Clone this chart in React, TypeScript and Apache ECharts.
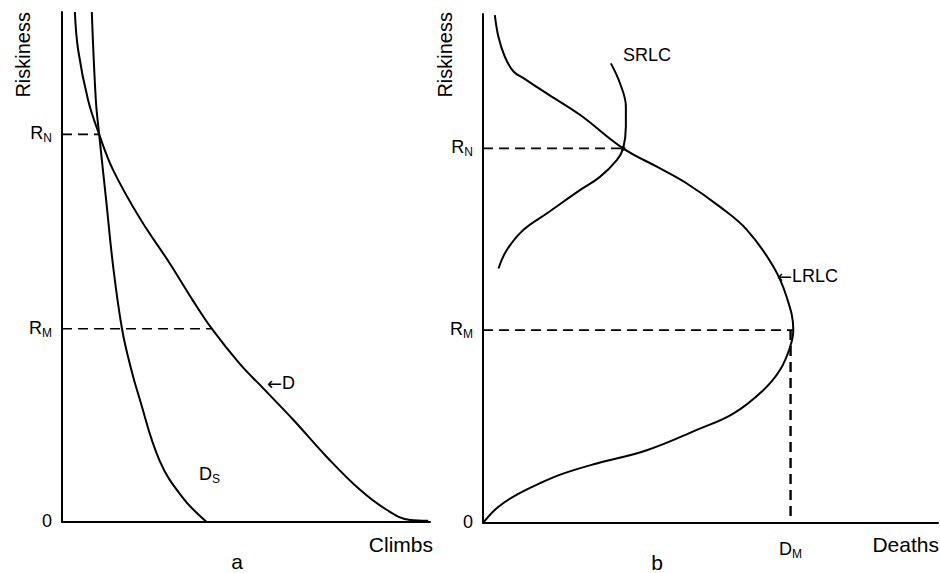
import React, { useEffect, useRef } from 'react';
import * as echarts from 'echarts';

// Panel a: Riskiness vs Climbs
const dClimbs = [3.5, 4.4, 7.1, 10.1, 13.9, 21.2, 29.3, 35.5, 40.7, 48.2, 54.7, 62.9, 71.9, 81.0, 88.2, 94.6, 99.5];
const dRisk = [100, 92.5, 82.7, 76.0, 69.0, 59.5, 50.7, 43.5, 37.9, 31.1, 26.2, 20.0, 12.8, 6.3, 2.4, 0.4, 0.25];
const dsClimbs = [8.1, 9.2, 10.1, 12.0, 13.9, 16.3, 18.6, 20.9, 26.6, 32.9, 39.3];
const dsRisk = [100, 82.7, 76.0, 63.1, 50.1, 37.9, 30.5, 24.6, 11.9, 4.7, 0];
const RN_A = 76.0;
const RM_A = 37.9;
const RN_A_CLIMBS = 10.1;
const RM_A_CLIMBS = 40.7;

// Panel b: Riskiness vs Deaths
const lrlcDeaths = [2.6, 3.4, 4.8, 6.7, 8.9, 14.0, 21.3, 30.8, 38.2, 44.8, 52.1, 58.0, 63.8, 66.7, 68.2, 67.5, 65.3, 61.6, 55.0, 47.0, 36.0, 25.0, 17.6, 12.5, 6.7, 3.0, 0];
const lrlcRisk = [99.8, 95.5, 91.6, 88.7, 87.4, 84.4, 80.2, 73.6, 70.0, 66.7, 62.1, 57.6, 50.4, 44.5, 37.9, 34.6, 30.1, 26.1, 21.5, 18.3, 14.3, 11.7, 9.7, 7.8, 5.2, 2.9, 0];
const srlcDeaths = [28.1, 30.1, 31.4, 31.4, 30.8, 29.4, 25.7, 21.3, 14.0, 8.9, 5.2, 3.4];
const srlcRisk = [90.3, 86.4, 81.8, 77.9, 73.6, 71.3, 68.0, 65.4, 60.8, 57.6, 53.6, 50.0];
const RN_B = 73.6;
const RM_B = 37.9;
const RN_B_DEATHS = 30.8;
const D_M = 67.6;
const RM_B_DEATHS = 68.2;

const yTickLabels: Record<string, string> = { RN: 'R|N', RM: 'R|M', zero: '0' };

const FONT = '"Liberation Sans", Arial, Helvetica, sans-serif';

const pair = (xs: number[], ys: number[]) => xs.map((x, i) => [x, ys[i]]);

const rich = {
  b: { fontSize: 18, lineHeight: 20, verticalAlign: 'top', color: '#000', fontFamily: FONT },
  s: { fontSize: 12, lineHeight: 12, verticalAlign: 'bottom', color: '#000', fontFamily: FONT },
  a: { fontSize: 18, lineHeight: 20, verticalAlign: 'top', color: '#000', fontFamily: '"DejaVu Sans", sans-serif' },
};

const fmtLabel = (txt: string) => {
  const [a, b] = txt.split('|');
  return b ? `{b|${a}}{s|${b}}` : `{b|${a}}`;
};

const yLabelFor = (rn: number, rm: number) => (v: number) => {
  if (Math.abs(v - rn) < 0.01) return fmtLabel(yTickLabels.RN);
  if (Math.abs(v - rm) < 0.01) return fmtLabel(yTickLabels.RM);
  if (v === 0) return fmtLabel(yTickLabels.zero);
  return '';
};

export default function App() {
  const ref = useRef<HTMLDivElement>(null);
  useEffect(() => {
    document.body.style.margin = '0';
    if (!ref.current) return;
    const chart = echarts.init(ref.current, null, { renderer: 'svg' });
    const axisLine = { show: true, lineStyle: { color: '#000', width: 2 } };
    const baseX = {
      type: 'value', min: 0, max: 100,
      axisLine, axisTick: { show: false }, splitLine: { show: false },
    };
    const curve = { type: 'line', showSymbol: false, smooth: 0.4, lineStyle: { color: '#000', width: 2 } };
    const dash = (w: number) => ({ type: 'line', showSymbol: false, lineStyle: { color: '#000', width: w, type: [10, 6] } });
    const text = (x: number, y: number, t: string, extra: any = {}) => ({
      type: 'text', x, y,
      style: { text: t, fill: '#000', font: `18px ${FONT}`, align: 'left', verticalAlign: 'middle', ...extra },
    });
    const option: any = {
      animation: false,
      backgroundColor: '#fff',
      grid: [
        { left: 62, top: 12, width: 368, height: 510, containLabel: false, outerBoundsMode: 'none' },
        { left: 483, top: 14, width: 455, height: 509, containLabel: false, outerBoundsMode: 'none' },
      ],
      xAxis: [
        { ...baseX, gridIndex: 0, axisLabel: { show: false } },
        {
          ...baseX, gridIndex: 1,
          axisLabel: {
            show: true, customValues: [D_M], margin: 17,
            formatter: (v: number) => (Math.abs(v - D_M) < 0.01 ? fmtLabel('D|M') : ''),
            rich,
          },
        },
      ],
      yAxis: [
        {
          type: 'value', min: 0, max: 100, gridIndex: 0,
          axisLine, axisTick: { show: false }, splitLine: { show: false },
          axisLabel: { show: true, customValues: [0, RM_A, RN_A], margin: 10, formatter: yLabelFor(RN_A, RM_A), rich },
        },
        {
          type: 'value', min: 0, max: 100, gridIndex: 1,
          axisLine, axisTick: { show: false }, splitLine: { show: false },
          axisLabel: { show: true, customValues: [0, RM_B, RN_B], margin: 10, formatter: yLabelFor(RN_B, RM_B), rich },
        },
      ],
      series: [
        { ...curve, name: 'D', xAxisIndex: 0, yAxisIndex: 0, data: pair(dClimbs, dRisk) },
        { ...curve, name: 'Ds', xAxisIndex: 0, yAxisIndex: 0, data: pair(dsClimbs, dsRisk) },
        { ...dash(1.6), name: 'RN a', xAxisIndex: 0, yAxisIndex: 0, data: [[0, RN_A], [RN_A_CLIMBS, RN_A]] },
        { ...dash(1.4), name: 'RM a', xAxisIndex: 0, yAxisIndex: 0, data: [[0, RM_A], [RM_A_CLIMBS, RM_A]] },
        { ...curve, name: 'LRLC', xAxisIndex: 1, yAxisIndex: 1, data: pair(lrlcDeaths, lrlcRisk) },
        { ...curve, name: 'SRLC', xAxisIndex: 1, yAxisIndex: 1, data: pair(srlcDeaths, srlcRisk) },
        { ...dash(1.6), name: 'RN b', xAxisIndex: 1, yAxisIndex: 1, data: [[0, RN_B], [RN_B_DEATHS, RN_B]] },
        { ...dash(1.6), name: 'RM b', xAxisIndex: 1, yAxisIndex: 1, data: [[0, RM_B], [RM_B_DEATHS, RM_B]] },
        { ...dash(2.4), name: 'DM', xAxisIndex: 1, yAxisIndex: 1, data: [[D_M, RM_B], [D_M, 0]] },
        {
          type: 'scatter', name: 'eq', xAxisIndex: 1, yAxisIndex: 1, symbolSize: 5,
          itemStyle: { color: '#000' }, data: [[RN_B_DEATHS, RN_B]],
        },
      ],
      graphic: [
        text(23, 12, 'Riskiness', { font: `20px ${FONT}`, align: 'right' }),
        text(445, 12, 'Riskiness', { font: `20px ${FONT}`, align: 'right' }),
        text(433, 544, 'Climbs', { font: `21px ${FONT}`, align: 'right' }),
        text(939, 544, 'Deaths', { font: `21px ${FONT}`, align: 'right' }),
        text(237, 561, 'a', { font: `21px ${FONT}`, align: 'center' }),
        text(657, 562, 'b', { font: `21px ${FONT}`, align: 'center' }),
        {
          type: 'text', x: 267, y: 374,
          style: { text: '{a|←}{b|D}', rich, fill: '#000', align: 'left', verticalAlign: 'top' },
        },
        text(623, 55, 'SRLC', { font: `18px ${FONT}` }),
        {
          type: 'text', x: 777, y: 267,
          style: { text: '{a|←}{b|LRLC}', rich, fill: '#000', align: 'left', verticalAlign: 'top' },
        },
        {
          type: 'text', x: 199, y: 465,
          style: { text: '{b|D}{s|S}', rich, fill: '#000', align: 'left', verticalAlign: 'top' },
        },
      ],
    };
    option.graphic[0].rotation = Math.PI / 2;
    option.graphic[1].rotation = Math.PI / 2;
    chart.setOption(option);
    return () => chart.dispose();
  }, []);
  return <div ref={ref} style={{ width: 940, height: 573 }} />;
}
